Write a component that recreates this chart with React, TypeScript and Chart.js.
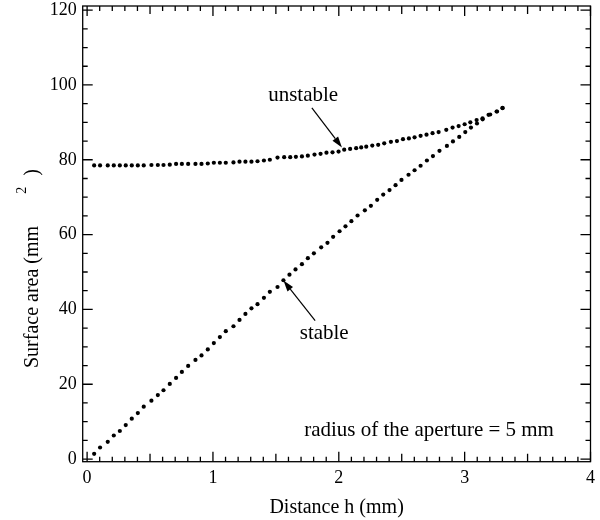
import React, { useEffect, useRef } from "react";
import { Chart, registerables } from "chart.js";
Chart.register(...registerables);

// ---- axis ranges and ticks ----
const X_MIN = -0.035;
const X_MAX = 4.0;
const Y_MIN = -0.7;
const Y_MAX = 121.1;
const xTickValues = [0, 1, 2, 3, 4];
const yTickValues = [0, 20, 40, 60, 80, 100, 120];

// ---- series: stable ----
const stableX = [
  0.056, 0.103, 0.164, 0.212, 0.26, 0.307, 0.355, 0.403, 0.45, 0.511,
  0.562, 0.607, 0.657, 0.707, 0.753, 0.803, 0.861, 0.909, 0.959, 1.007,
  1.055, 1.102, 1.163, 1.211, 1.258, 1.306, 1.354, 1.405, 1.452, 1.513,
  1.56, 1.608, 1.656, 1.707, 1.754, 1.802, 1.86, 1.91, 1.955, 2.006,
  2.053, 2.1, 2.149, 2.207, 2.255, 2.305, 2.353, 2.403, 2.451, 2.498,
  2.554, 2.602, 2.65, 2.7, 2.748, 2.8, 2.859, 2.907, 2.957, 3.005,
  3.05, 3.098, 3.143, 3.19, 3.257, 3.301,
];
const stableY = [
  1.4, 3.1, 4.6, 6.3, 7.5, 9.1, 10.8, 12.3, 14.0, 15.6,
  17.1, 18.4, 20.1, 21.7, 23.3, 24.9, 26.5, 27.7, 29.3, 31.0,
  32.6, 34.2, 35.5, 37.2, 38.8, 40.3, 41.4, 43.1, 44.7, 46.0,
  47.8, 49.3, 50.7, 52.1, 53.7, 55.0, 56.6, 57.8, 59.4, 60.9,
  62.2, 63.6, 65.1, 66.5, 67.7, 69.3, 70.7, 71.9, 73.2, 74.6,
  76.0, 77.2, 78.4, 79.8, 81.0, 82.4, 83.7, 84.9, 86.1, 87.4,
  88.6, 89.7, 90.8, 92.0, 92.9, 93.9,
];

// ---- series: unstable ----
const unstableX = [
  0.056, 0.103, 0.164, 0.212, 0.26, 0.307, 0.355, 0.403, 0.45, 0.511,
  0.562, 0.607, 0.657, 0.707, 0.753, 0.803, 0.861, 0.909, 0.959, 1.007,
  1.055, 1.102, 1.163, 1.211, 1.258, 1.306, 1.354, 1.405, 1.452,
  1.513, 1.566, 1.614, 1.659, 1.707, 1.754, 1.807, 1.855, 1.902, 1.95,
  1.998, 2.043, 2.09, 2.138, 2.178, 2.218, 2.266, 2.313, 2.361, 2.414,
  2.462, 2.51, 2.557, 2.602, 2.65, 2.697, 2.745, 2.793, 2.854, 2.904,
  2.952, 3.0, 3.045, 3.095, 3.142, 3.203, 3.254, 3.301,
];
const unstableY = [
  78.5, 78.5, 78.5, 78.5, 78.5, 78.5, 78.5, 78.5, 78.5, 78.6,
  78.6, 78.6, 78.7, 78.9, 78.9, 78.9, 78.9, 78.9, 79.0, 79.2,
  79.2, 79.2, 79.3, 79.5, 79.5, 79.5, 79.6, 79.8, 80.0,
  80.6, 80.7, 80.7, 80.8, 80.9, 81.1, 81.4, 81.6, 81.9, 82.0,
  82.2, 82.7, 82.9, 83.1, 83.3, 83.5, 83.8, 84.0, 84.4, 84.8,
  85.0, 85.5, 85.7, 86.0, 86.4, 86.7, 87.1, 87.4, 88.0, 88.6,
  89.0, 89.5, 90.0, 90.6, 91.1, 92.1, 92.9, 93.8,
];

// ---- texts ----
const xTitle = "Distance h (mm)";
const yTitleMain = "Surface area (mm";
const yTitleSup = "2";
const yTitleEnd = ")";
const unstableLabel = "unstable";
const stableLabel = "stable";
const noteLabel = "radius of the aperture = 5 mm";

// annotation anchors in data units
const unstableLabelAt = [1.717, 97.1];
const unstableArrowFrom = [1.786, 93.9];
const unstableArrowTo = [2.025, 83.3];
const stableLabelAt = [1.884, 33.6];
const stableArrowFrom = [1.812, 37.0];
const stableArrowTo = [1.56, 47.7];
const noteAt = [1.725, 7.6];

const FONT = '"Liberation Serif", "Times New Roman", serif';

const zip = (xs: number[], ys: number[]) => xs.map((x, i) => ({ x, y: ys[i] }));

const framePlugin = {
  id: "frameAndNotes",
  afterDraw(chart: any) {
    const { ctx, chartArea: a, scales } = chart;
    const xs = scales.x;
    const ys = scales.y;
    ctx.save();
    ctx.strokeStyle = "#000";
    ctx.fillStyle = "#000";
    ctx.lineWidth = 1.3;
    ctx.strokeRect(a.left, a.top, a.right - a.left, a.bottom - a.top);

    // x ticks (top and bottom, inward)
    ctx.beginPath();
    for (let i = 0; i <= 40; i++) {
      const v = i / 10;
      const len = i % 10 === 0 ? 10 : i % 5 === 0 ? 8 : 5;
      const px = xs.getPixelForValue(v);
      ctx.moveTo(px, a.bottom);
      ctx.lineTo(px, a.bottom - len);
      ctx.moveTo(px, a.top);
      ctx.lineTo(px, a.top + len);
    }
    // y ticks (left and right, inward)
    for (let i = 0; i <= 24; i++) {
      const v = i * 5;
      const len = i % 4 === 0 ? 10 : 5;
      const py = ys.getPixelForValue(v);
      ctx.moveTo(a.left, py);
      ctx.lineTo(a.left + len, py);
      ctx.moveTo(a.right, py);
      ctx.lineTo(a.right - len, py);
    }
    ctx.stroke();

    // x title
    ctx.font = `20px ${FONT}`;
    ctx.textAlign = "center";
    ctx.textBaseline = "middle";
    ctx.fillText(xTitle, (a.left + a.right) / 2, 508);

    // y title (rotated, with raised 2)
    ctx.save();
    ctx.translate(38, 368);
    ctx.rotate(-Math.PI / 2);
    ctx.textAlign = "left";
    ctx.textBaseline = "alphabetic";
    ctx.font = `20px ${FONT}`;
    ctx.fillText(yTitleMain, 0, 0);
    const w = ctx.measureText(yTitleMain).width;
    ctx.font = `14px ${FONT}`;
    ctx.fillText(yTitleSup, w + 32, -12);
    ctx.font = `20px ${FONT}`;
    ctx.fillText(yTitleEnd, w + 50, 0);
    ctx.restore();

    // annotations
    const P = (d: number[]) => [xs.getPixelForValue(d[0]), ys.getPixelForValue(d[1])];
    ctx.font = `21px ${FONT}`;
    ctx.textBaseline = "middle";
    ctx.textAlign = "center";
    let p = P(unstableLabelAt);
    ctx.fillText(unstableLabel, p[0], p[1]);
    p = P(stableLabelAt);
    ctx.fillText(stableLabel, p[0], p[1]);
    ctx.textAlign = "left";
    p = P(noteAt);
    ctx.fillText(noteLabel, p[0], p[1]);

    const arrow = (from: number[], to: number[]) => {
      const [x1, y1] = P(from);
      const [x2, y2] = P(to);
      const ang = Math.atan2(y2 - y1, x2 - x1);
      const hl = 11;
      const hw = 3.5;
      const bx = x2 - hl * Math.cos(ang);
      const by = y2 - hl * Math.sin(ang);
      ctx.lineWidth = 1.2;
      ctx.beginPath();
      ctx.moveTo(x1, y1);
      ctx.lineTo(bx, by);
      ctx.stroke();
      ctx.beginPath();
      ctx.moveTo(x2, y2);
      ctx.lineTo(bx + hw * Math.sin(ang), by - hw * Math.cos(ang));
      ctx.lineTo(bx - hw * Math.sin(ang), by + hw * Math.cos(ang));
      ctx.closePath();
      ctx.fill();
    };
    arrow(unstableArrowFrom, unstableArrowTo);
    arrow(stableArrowFrom, stableArrowTo);
    ctx.restore();
  },
};

export default function App() {
  const ref = useRef<HTMLCanvasElement | null>(null);
  useEffect(() => {
    if (!ref.current) return;
    const chart = new Chart(ref.current, {
      type: "scatter",
      data: {
        datasets: [
          {
            label: "unstable",
            data: zip(unstableX, unstableY),
            pointRadius: 2.1,
            pointBackgroundColor: "#000",
            pointBorderWidth: 0,
            showLine: false,
          },
          {
            label: "stable",
            data: zip(stableX, stableY),
            pointRadius: 2.1,
            pointBackgroundColor: "#000",
            pointBorderWidth: 0,
            showLine: false,
          },
        ],
      },
      options: {
        responsive: false,
        animation: false,
        layout: { padding: { left: 0, top: 6, right: 9.5, bottom: 0 } },
        plugins: { legend: { display: false }, tooltip: { enabled: false } },
        scales: {
          x: {
            type: "linear",
            min: X_MIN,
            max: X_MAX,
            grid: { display: false, drawTicks: false },
            border: { display: false },
            afterBuildTicks: (s: any) => {
              s.ticks = xTickValues.map((v) => ({ value: v }));
            },
            afterFit: (s: any) => {
              s.height = 58.3;
              s.paddingLeft = 0;
              s.paddingRight = 0;
            },
            ticks: {
              color: "#000",
              padding: 6,
              maxRotation: 0,
              font: { family: FONT, size: 18 },
            },
          },
          y: {
            type: "linear",
            min: Y_MIN,
            max: Y_MAX,
            grid: { display: false, drawTicks: false },
            border: { display: false },
            afterBuildTicks: (s: any) => {
              s.ticks = yTickValues.map((v) => ({ value: v }));
            },
            afterFit: (s: any) => {
              s.width = 82.7;
              s.paddingTop = 0;
              s.paddingBottom = 0;
            },
            ticks: {
              color: "#000",
              padding: 6,
              font: { family: FONT, size: 18 },
            },
          },
        },
      },
      plugins: [framePlugin],
    });
    return () => chart.destroy();
  }, []);
  return (
    <div style={{ position: "absolute", left: 0, top: 0, width: 600, height: 520, background: "#fff" }}>
      <canvas ref={ref} width={600} height={520} />
    </div>
  );
}
